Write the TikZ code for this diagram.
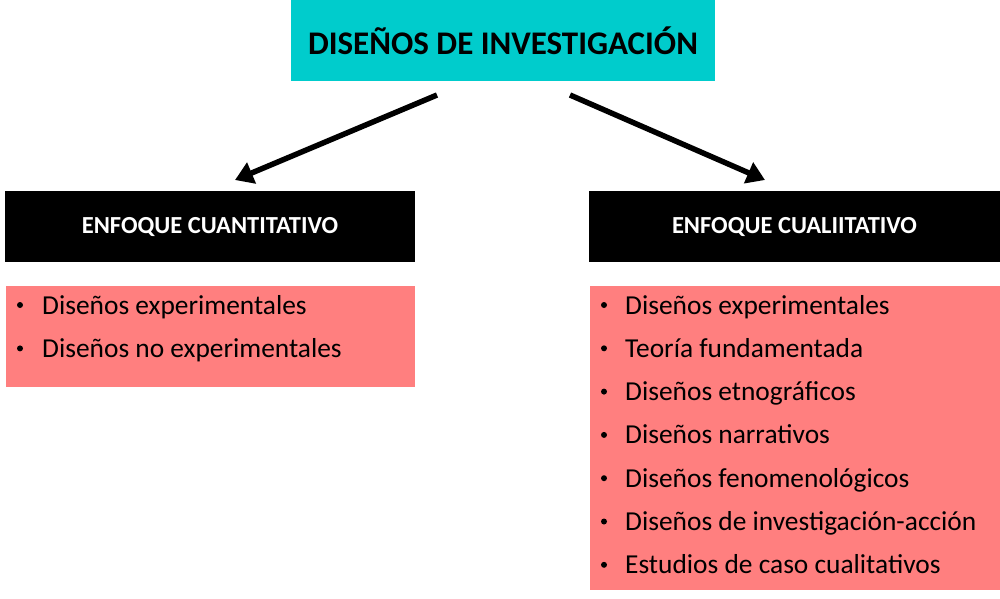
\documentclass[tikz,border=0pt]{standalone}
\usepackage{fontspec}
\setmainfont{Carlito}
\usetikzlibrary{arrows.meta}
\definecolor{titlecyan}{HTML}{00CCCC}
\definecolor{listpink}{HTML}{FF7F7F}
\tikzset{
  box/.style={rectangle, inner sep=0pt, outer sep=0pt, draw=none},
  titlebox/.style={box, fill=titlecyan, font=\fontsize{33}{38}\selectfont\bfseries},
  headbox/.style={box, fill=black, text=white, font=\fontsize{24.5}{28}\selectfont\bfseries},
  listbox/.style={box, fill=listpink},
  item/.style={anchor=base west, inner sep=0pt, font=\fontsize{27.4}{32}\selectfont},
  bul/.style={circle, fill=black, inner sep=0pt, minimum size=6pt},
  arr/.style={line width=5.5pt, -{Triangle[length=18pt,width=22pt]}}
}
\begin{document}
\begin{tikzpicture}[x=1pt,y=-1pt]
\useasboundingbox (0,0) rectangle (1000,598);
\node[titlebox, minimum width=424pt, minimum height=81pt] (title) at (503,40.5) {DISEÑOS DE INVESTIGACIÓN};
\node[headbox, minimum width=410pt, minimum height=71pt] (cuan) at (210,226.5) {ENFOQUE CUANTITATIVO};
\node[headbox, minimum width=411pt, minimum height=71pt] (cual) at (794.5,226.5) {ENFOQUE CUALIITATIVO};
\node[listbox, minimum width=409pt, minimum height=101pt] (lcuan) at (210.5,336.5) {};
\node[listbox, minimum width=410pt, minimum height=304pt] (lcual) at (795,438) {};
\draw[arr] ([xshift=-66pt,yshift=-14pt]title.south) -- ([xshift=25pt,yshift=11pt]cuan.north);
\draw[arr] ([xshift=67pt,yshift=-14pt]title.south) -- ([xshift=-29.5pt,yshift=11pt]cual.north);
% left list
\foreach \t [count=\i] in {Diseños experimentales, Diseños no experimentales}{
  \node[bul] (lb\i) at (20,{305+43.4*(\i-1)}) {};
  \node[item] (li\i) at (42,{314+43.4*(\i-1)}) {\t};
}
% right list
\foreach \t [count=\i] in {Diseños experimentales, Teoría fundamentada, Diseños etnográficos, Diseños narrativos, Diseños fenomenológicos, Diseños de investigación-acción, Estudios de caso cualitativos}{
  \node[bul] (rb\i) at (604,{305+43.3*(\i-1)}) {};
  \node[item] (ri\i) at (625,{314+43.3*(\i-1)}) {\t};
}
\end{tikzpicture}
\end{document}
